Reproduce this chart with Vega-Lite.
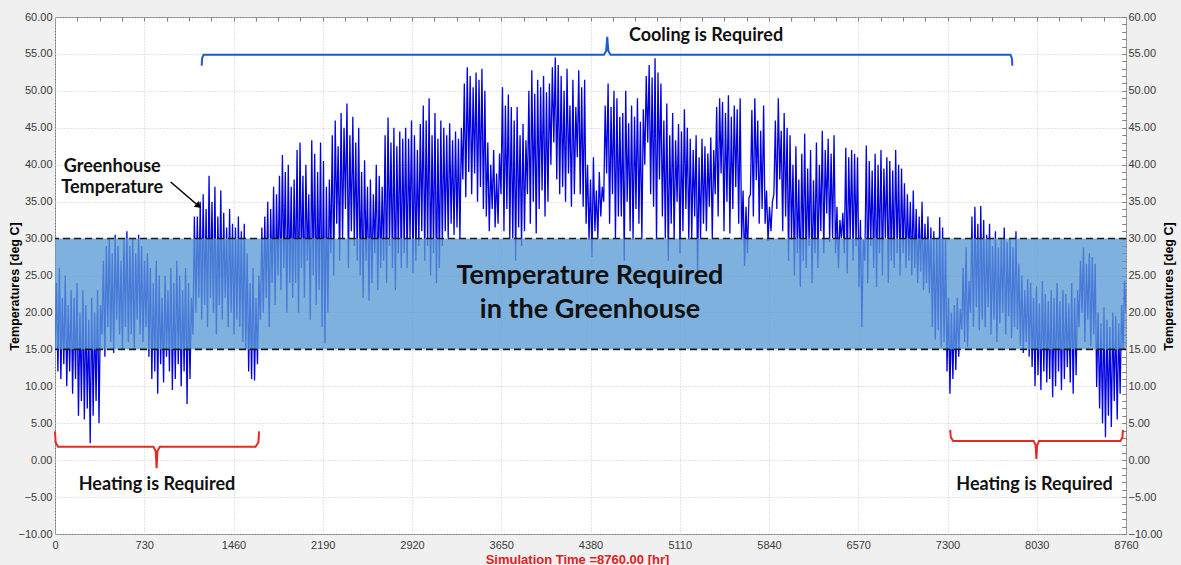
{
"$schema":"https://vega.github.io/schema/vega-lite/v6.json",
"width":1071,"height":517,
"autosize":"none",
"padding":{"left":55,"top":17,"right":55,"bottom":31},
"background":"#f0f0f0",
"config":{"view":{"fill":"white","stroke":"#7f7f7f"},"axis":{"labelFont":"Liberation Sans","titleFont":"Liberation Sans"}},
"datasets":{
"temp":[
{"t":0,"v":15},{"t":12,"v":24},{"t":24,"v":12},{"t":36,"v":26},{"t":48,"v":11},{"t":60,"v":22},{"t":72,"v":13},{"t":84,"v":25},{"t":96,"v":10},{"t":108,"v":21},
{"t":120,"v":12},{"t":132,"v":23},{"t":144,"v":9},{"t":156,"v":22},{"t":168,"v":11},{"t":180,"v":24},{"t":192,"v":6},{"t":204,"v":20},{"t":216,"v":8},{"t":228,"v":23},
{"t":240,"v":5.5},{"t":252,"v":21},{"t":264,"v":7},{"t":276,"v":19},{"t":288,"v":2.3},{"t":300,"v":22},{"t":312,"v":6},{"t":324,"v":20},{"t":336,"v":8},{"t":348,"v":23},
{"t":360,"v":5},{"t":372,"v":21},{"t":384,"v":17},{"t":396,"v":27},{"t":408,"v":14},{"t":420,"v":29},{"t":432,"v":18},{"t":444,"v":30},{"t":456,"v":16},{"t":468,"v":28},
{"t":480,"v":14.5},{"t":492,"v":30.5},{"t":504,"v":19},{"t":516,"v":29},{"t":528,"v":17},{"t":540,"v":27},{"t":552,"v":15},{"t":564,"v":30},{"t":576,"v":18},{"t":588,"v":31},
{"t":600,"v":16},{"t":612,"v":29},{"t":624,"v":17},{"t":636,"v":30},{"t":648,"v":15},{"t":660,"v":28},{"t":672,"v":19},{"t":684,"v":30.5},{"t":696,"v":17},{"t":708,"v":29},
{"t":720,"v":16},{"t":732,"v":27},{"t":744,"v":18},{"t":756,"v":28},{"t":768,"v":14},{"t":780,"v":26},{"t":792,"v":11},{"t":804,"v":24},{"t":816,"v":12},{"t":828,"v":27},
{"t":840,"v":9},{"t":852,"v":25},{"t":864,"v":13},{"t":876,"v":22},{"t":888,"v":10.5},{"t":900,"v":25},{"t":912,"v":14},{"t":924,"v":23},{"t":936,"v":12},{"t":948,"v":26},
{"t":960,"v":9.5},{"t":972,"v":24},{"t":984,"v":11},{"t":996,"v":27},{"t":1008,"v":13},{"t":1020,"v":25},{"t":1032,"v":10},{"t":1044,"v":23},{"t":1056,"v":12},{"t":1068,"v":26},
{"t":1080,"v":7.6},{"t":1092,"v":24},{"t":1104,"v":11},{"t":1116,"v":22},{"t":1128,"v":17},{"t":1140,"v":33},{"t":1152,"v":20},{"t":1164,"v":33},{"t":1176,"v":22},{"t":1188,"v":35},
{"t":1200,"v":19},{"t":1212,"v":36},{"t":1224,"v":21},{"t":1236,"v":34},{"t":1248,"v":18},{"t":1260,"v":38.5},{"t":1272,"v":22},{"t":1284,"v":35},{"t":1296,"v":20},{"t":1308,"v":37},
{"t":1320,"v":17},{"t":1332,"v":33},{"t":1344,"v":21},{"t":1356,"v":36.5},{"t":1368,"v":19},{"t":1380,"v":33.5},{"t":1392,"v":22},{"t":1404,"v":31.5},{"t":1416,"v":18},{"t":1428,"v":34},
{"t":1440,"v":20},{"t":1452,"v":32},{"t":1464,"v":17},{"t":1476,"v":31.5},{"t":1488,"v":19},{"t":1500,"v":33},{"t":1512,"v":18},{"t":1524,"v":31},{"t":1536,"v":16},{"t":1548,"v":32},
{"t":1560,"v":15},{"t":1572,"v":28},{"t":1584,"v":12},{"t":1596,"v":24},{"t":1608,"v":11},{"t":1620,"v":26},{"t":1632,"v":10.8},{"t":1644,"v":22},{"t":1656,"v":13},{"t":1668,"v":25},
{"t":1680,"v":19},{"t":1692,"v":31.5},{"t":1704,"v":20},{"t":1716,"v":33},{"t":1728,"v":22},{"t":1740,"v":35},{"t":1752,"v":18},{"t":1764,"v":34},{"t":1776,"v":24},{"t":1788,"v":37},
{"t":1800,"v":21},{"t":1812,"v":36},{"t":1824,"v":25},{"t":1836,"v":38.5},{"t":1848,"v":23},{"t":1860,"v":41.3},{"t":1872,"v":26},{"t":1884,"v":39},{"t":1896,"v":20},{"t":1908,"v":40},
{"t":1920,"v":24},{"t":1932,"v":37},{"t":1944,"v":22},{"t":1956,"v":38},{"t":1968,"v":24},{"t":1980,"v":42},{"t":1992,"v":20},{"t":2004,"v":43},{"t":2016,"v":26},{"t":2028,"v":38.5},
{"t":2040,"v":22},{"t":2052,"v":40},{"t":2064,"v":27},{"t":2076,"v":36},{"t":2088,"v":19},{"t":2100,"v":43.3},{"t":2112,"v":25},{"t":2124,"v":41.5},{"t":2136,"v":21},{"t":2148,"v":39},
{"t":2160,"v":23},{"t":2172,"v":43},{"t":2184,"v":18},{"t":2196,"v":40.5},{"t":2208,"v":15.8},{"t":2220,"v":37},{"t":2232,"v":20},{"t":2244,"v":38},{"t":2256,"v":28},{"t":2268,"v":44},
{"t":2280,"v":25},{"t":2292,"v":46},{"t":2304,"v":32},{"t":2316,"v":42.5},{"t":2328,"v":27},{"t":2340,"v":47},{"t":2352,"v":30},{"t":2364,"v":45},{"t":2376,"v":34},{"t":2388,"v":48.3},
{"t":2400,"v":26},{"t":2412,"v":44},{"t":2424,"v":31},{"t":2436,"v":46.5},{"t":2448,"v":29},{"t":2460,"v":43},{"t":2472,"v":27},{"t":2484,"v":45},{"t":2496,"v":25},{"t":2508,"v":39},
{"t":2520,"v":22},{"t":2532,"v":40.6},{"t":2544,"v":27},{"t":2556,"v":37},{"t":2568,"v":21.6},{"t":2580,"v":38},{"t":2592,"v":24},{"t":2604,"v":36},{"t":2616,"v":28},{"t":2628,"v":40},
{"t":2640,"v":23},{"t":2652,"v":38.5},{"t":2664,"v":26},{"t":2676,"v":37},{"t":2688,"v":27},{"t":2700,"v":44},{"t":2712,"v":24},{"t":2724,"v":46.4},{"t":2736,"v":29},{"t":2748,"v":43},
{"t":2760,"v":26},{"t":2772,"v":45},{"t":2784,"v":23},{"t":2796,"v":42.5},{"t":2808,"v":28},{"t":2820,"v":44.5},{"t":2832,"v":26},{"t":2844,"v":43.5},{"t":2856,"v":28},{"t":2868,"v":45},
{"t":2880,"v":26},{"t":2892,"v":43.5},{"t":2904,"v":30},{"t":2916,"v":46},{"t":2928,"v":25.3},{"t":2940,"v":44},{"t":2952,"v":27},{"t":2964,"v":42},{"t":2976,"v":29},{"t":2988,"v":45.5},
{"t":3000,"v":31},{"t":3012,"v":48},{"t":3024,"v":27},{"t":3036,"v":46},{"t":3048,"v":29},{"t":3060,"v":49},{"t":3072,"v":25},{"t":3084,"v":44},{"t":3096,"v":28},{"t":3108,"v":47},
{"t":3120,"v":24},{"t":3132,"v":43.5},{"t":3144,"v":26},{"t":3156,"v":46},{"t":3168,"v":29},{"t":3180,"v":45},{"t":3192,"v":31},{"t":3204,"v":44},{"t":3216,"v":30},{"t":3228,"v":45.6},
{"t":3240,"v":32},{"t":3252,"v":43.3},{"t":3264,"v":30.5},{"t":3276,"v":44.5},{"t":3288,"v":31.5},{"t":3300,"v":43.5},{"t":3312,"v":30},{"t":3324,"v":45},{"t":3336,"v":38},{"t":3348,"v":51},
{"t":3360,"v":35.6},{"t":3372,"v":53.2},{"t":3384,"v":39},{"t":3396,"v":52},{"t":3408,"v":36},{"t":3420,"v":50.5},{"t":3432,"v":38.8},{"t":3444,"v":52.5},{"t":3456,"v":35},{"t":3468,"v":51.5},
{"t":3480,"v":37},{"t":3492,"v":53},{"t":3504,"v":34},{"t":3516,"v":50},{"t":3528,"v":33},{"t":3540,"v":43},{"t":3552,"v":31},{"t":3564,"v":40},{"t":3576,"v":34},{"t":3588,"v":42},
{"t":3600,"v":31.5},{"t":3612,"v":38.8},{"t":3624,"v":32},{"t":3636,"v":41.5},{"t":3648,"v":36},{"t":3660,"v":50.5},{"t":3672,"v":31},{"t":3684,"v":48},{"t":3696,"v":34},{"t":3708,"v":49.5},
{"t":3720,"v":30},{"t":3732,"v":47.8},{"t":3744,"v":30},{"t":3756,"v":46},{"t":3768,"v":27},{"t":3780,"v":47.8},{"t":3792,"v":31.5},{"t":3804,"v":44},{"t":3816,"v":29},{"t":3828,"v":45.5},
{"t":3840,"v":31},{"t":3852,"v":43.3},{"t":3864,"v":36},{"t":3876,"v":50},{"t":3888,"v":32},{"t":3900,"v":52.8},{"t":3912,"v":35},{"t":3924,"v":49.6},{"t":3936,"v":30.7},{"t":3948,"v":51.5},
{"t":3960,"v":34},{"t":3972,"v":50.5},{"t":3984,"v":36.5},{"t":3996,"v":52},{"t":4008,"v":33},{"t":4020,"v":49.8},{"t":4032,"v":35},{"t":4044,"v":51},{"t":4056,"v":40},{"t":4068,"v":53.2},
{"t":4080,"v":43},{"t":4092,"v":54.5},{"t":4104,"v":38},{"t":4116,"v":53.5},{"t":4128,"v":36},{"t":4140,"v":52},{"t":4152,"v":37},{"t":4164,"v":50},{"t":4176,"v":35},{"t":4188,"v":53},
{"t":4200,"v":38.8},{"t":4212,"v":48},{"t":4224,"v":34.3},{"t":4236,"v":51.5},{"t":4248,"v":36},{"t":4260,"v":47.8},{"t":4272,"v":41},{"t":4284,"v":52.8},{"t":4296,"v":36},{"t":4308,"v":50.5},
{"t":4320,"v":34.3},{"t":4332,"v":51.5},{"t":4344,"v":32},{"t":4356,"v":40},{"t":4368,"v":29.8},{"t":4380,"v":38},{"t":4392,"v":27.5},{"t":4404,"v":41},{"t":4416,"v":31},{"t":4428,"v":36.5},
{"t":4440,"v":30},{"t":4452,"v":39},{"t":4464,"v":33},{"t":4476,"v":37},{"t":4488,"v":35},{"t":4500,"v":48},{"t":4512,"v":38.8},{"t":4524,"v":51},{"t":4536,"v":32},{"t":4548,"v":47.8},
{"t":4560,"v":36},{"t":4572,"v":50},{"t":4584,"v":30},{"t":4596,"v":49},{"t":4608,"v":33},{"t":4620,"v":46.5},{"t":4632,"v":33},{"t":4644,"v":47},{"t":4656,"v":27},{"t":4668,"v":50},
{"t":4680,"v":35},{"t":4692,"v":45.6},{"t":4704,"v":31},{"t":4716,"v":48},{"t":4728,"v":29.8},{"t":4740,"v":46.5},{"t":4752,"v":34},{"t":4764,"v":49},{"t":4776,"v":32},{"t":4788,"v":45.8},
{"t":4800,"v":30},{"t":4812,"v":47.5},{"t":4824,"v":40},{"t":4836,"v":52},{"t":4848,"v":43},{"t":4860,"v":53.5},{"t":4872,"v":36},{"t":4884,"v":51.8},{"t":4896,"v":34.3},{"t":4908,"v":54.4},
{"t":4920,"v":29.8},{"t":4932,"v":52.5},{"t":4944,"v":38},{"t":4956,"v":51},{"t":4968,"v":33},{"t":4980,"v":46},{"t":4992,"v":30},{"t":5004,"v":48.3},{"t":5016,"v":27},{"t":5028,"v":44},
{"t":5040,"v":32},{"t":5052,"v":47},{"t":5064,"v":29.8},{"t":5076,"v":43.3},{"t":5088,"v":35},{"t":5100,"v":45.5},{"t":5112,"v":28},{"t":5124,"v":44.5},{"t":5136,"v":31},{"t":5148,"v":47.5},
{"t":5160,"v":34},{"t":5172,"v":45},{"t":5184,"v":29.8},{"t":5196,"v":43.5},{"t":5208,"v":30},{"t":5220,"v":42},{"t":5232,"v":33},{"t":5244,"v":44},{"t":5256,"v":25.3},{"t":5268,"v":41},
{"t":5280,"v":29.8},{"t":5292,"v":43.5},{"t":5304,"v":32},{"t":5316,"v":42.5},{"t":5328,"v":31},{"t":5340,"v":41.5},{"t":5352,"v":34.3},{"t":5364,"v":43.7},{"t":5376,"v":30},{"t":5388,"v":42},
{"t":5400,"v":36},{"t":5412,"v":47.8},{"t":5424,"v":33},{"t":5436,"v":49},{"t":5448,"v":38.8},{"t":5460,"v":48.5},{"t":5472,"v":31},{"t":5484,"v":47},{"t":5496,"v":35},{"t":5508,"v":49.4},
{"t":5520,"v":30.7},{"t":5532,"v":46.5},{"t":5544,"v":34},{"t":5556,"v":48},{"t":5568,"v":37},{"t":5580,"v":47.5},{"t":5592,"v":32},{"t":5604,"v":49},{"t":5616,"v":29.8},{"t":5628,"v":36.5},
{"t":5640,"v":26.3},{"t":5652,"v":34.3},{"t":5664,"v":28},{"t":5676,"v":35.5},{"t":5688,"v":36},{"t":5700,"v":47.4},{"t":5712,"v":33},{"t":5724,"v":49},{"t":5736,"v":37.9},{"t":5748,"v":46},
{"t":5760,"v":32},{"t":5772,"v":44.6},{"t":5784,"v":34},{"t":5796,"v":48},{"t":5808,"v":32},{"t":5820,"v":36.5},{"t":5832,"v":29.7},{"t":5844,"v":34.3},{"t":5856,"v":31},{"t":5868,"v":35},
{"t":5880,"v":36},{"t":5892,"v":46},{"t":5904,"v":34},{"t":5916,"v":49},{"t":5928,"v":38},{"t":5940,"v":44.6},{"t":5952,"v":31},{"t":5964,"v":47},{"t":5976,"v":33},{"t":5988,"v":45},
{"t":6000,"v":27},{"t":6012,"v":44},{"t":6024,"v":29.8},{"t":6036,"v":40},{"t":6048,"v":25},{"t":6060,"v":42.5},{"t":6072,"v":28},{"t":6084,"v":38},{"t":6096,"v":23.4},{"t":6108,"v":41.5},
{"t":6120,"v":27},{"t":6132,"v":44.2},{"t":6144,"v":26},{"t":6156,"v":39.5},{"t":6168,"v":29},{"t":6180,"v":42},{"t":6192,"v":24},{"t":6204,"v":37.9},{"t":6216,"v":28},{"t":6228,"v":43},
{"t":6240,"v":26},{"t":6252,"v":40},{"t":6264,"v":31},{"t":6276,"v":44.6},{"t":6288,"v":28},{"t":6300,"v":42},{"t":6312,"v":33.4},{"t":6324,"v":43.5},{"t":6336,"v":29.5},{"t":6348,"v":41.5},
{"t":6360,"v":30},{"t":6372,"v":44},{"t":6384,"v":28},{"t":6396,"v":34.3},{"t":6408,"v":26},{"t":6420,"v":32.5},{"t":6432,"v":30},{"t":6444,"v":33.5},{"t":6456,"v":28},{"t":6468,"v":42.3},
{"t":6480,"v":25.3},{"t":6492,"v":41},{"t":6504,"v":30},{"t":6516,"v":42},{"t":6528,"v":27},{"t":6540,"v":41.5},{"t":6552,"v":29},{"t":6564,"v":41},{"t":6576,"v":23.4},{"t":6588,"v":32.5},
{"t":6600,"v":18},{"t":6612,"v":29.8},{"t":6624,"v":27},{"t":6636,"v":42.6},{"t":6648,"v":24},{"t":6660,"v":40.5},{"t":6672,"v":29},{"t":6684,"v":39.2},{"t":6696,"v":26},{"t":6708,"v":41.5},
{"t":6720,"v":23.4},{"t":6732,"v":40},{"t":6744,"v":28},{"t":6756,"v":42},{"t":6768,"v":25},{"t":6780,"v":39.5},{"t":6792,"v":30},{"t":6804,"v":41},{"t":6816,"v":24},{"t":6828,"v":40.5},
{"t":6840,"v":27},{"t":6852,"v":39.2},{"t":6864,"v":26},{"t":6876,"v":42},{"t":6888,"v":28},{"t":6900,"v":40},{"t":6912,"v":25},{"t":6924,"v":39.5},{"t":6936,"v":28},{"t":6948,"v":37.5},
{"t":6960,"v":26},{"t":6972,"v":36},{"t":6984,"v":27},{"t":6996,"v":35},{"t":7008,"v":25},{"t":7020,"v":36.5},{"t":7032,"v":26},{"t":7044,"v":34},{"t":7056,"v":24},{"t":7068,"v":33},
{"t":7080,"v":25.5},{"t":7092,"v":35},{"t":7104,"v":23},{"t":7116,"v":32},{"t":7128,"v":24},{"t":7140,"v":33},{"t":7152,"v":22.6},{"t":7164,"v":31.5},{"t":7176,"v":18},{"t":7188,"v":31},
{"t":7200,"v":16.3},{"t":7212,"v":30},{"t":7224,"v":17.6},{"t":7236,"v":32.9},{"t":7248,"v":15.3},{"t":7260,"v":31.5},{"t":7272,"v":16},{"t":7284,"v":29.8},{"t":7296,"v":12},{"t":7308,"v":22},
{"t":7320,"v":9},{"t":7332,"v":20},{"t":7344,"v":11},{"t":7356,"v":21},{"t":7368,"v":12.2},{"t":7380,"v":22},{"t":7392,"v":14},{"t":7404,"v":20.5},{"t":7416,"v":17.7},{"t":7428,"v":26},
{"t":7440,"v":16},{"t":7452,"v":28.8},{"t":7464,"v":15.3},{"t":7476,"v":24.3},{"t":7488,"v":20},{"t":7500,"v":33},{"t":7512,"v":18},{"t":7524,"v":34.3},{"t":7536,"v":20.7},{"t":7548,"v":32},
{"t":7560,"v":17.6},{"t":7572,"v":34.4},{"t":7584,"v":19},{"t":7596,"v":32.5},{"t":7608,"v":18},{"t":7620,"v":30.5},{"t":7632,"v":20.7},{"t":7644,"v":32},{"t":7656,"v":17},{"t":7668,"v":29},
{"t":7680,"v":19},{"t":7692,"v":31},{"t":7704,"v":16},{"t":7716,"v":28.8},{"t":7728,"v":18.5},{"t":7740,"v":30},{"t":7752,"v":20},{"t":7764,"v":31.5},{"t":7776,"v":17},{"t":7788,"v":29.5},
{"t":7800,"v":19.5},{"t":7812,"v":30},{"t":7824,"v":16.5},{"t":7836,"v":28.8},{"t":7848,"v":18},{"t":7860,"v":31},{"t":7872,"v":17.7},{"t":7884,"v":26.6},{"t":7896,"v":15.5},{"t":7908,"v":25},
{"t":7920,"v":14.5},{"t":7932,"v":23},{"t":7944,"v":16},{"t":7956,"v":24.5},{"t":7968,"v":14},{"t":7980,"v":24},{"t":7992,"v":12.6},{"t":8004,"v":22},{"t":8016,"v":10},{"t":8028,"v":23.5},
{"t":8040,"v":11.5},{"t":8052,"v":21.2},{"t":8064,"v":9.5},{"t":8076,"v":24.3},{"t":8088,"v":12},{"t":8100,"v":22.5},{"t":8112,"v":10.5},{"t":8124,"v":21.5},{"t":8136,"v":11},{"t":8148,"v":23},
{"t":8160,"v":8.5},{"t":8172,"v":22},{"t":8184,"v":10},{"t":8196,"v":24},{"t":8208,"v":12},{"t":8220,"v":21.5},{"t":8232,"v":9.5},{"t":8244,"v":23},{"t":8256,"v":11},{"t":8268,"v":22.5},
{"t":8280,"v":12.6},{"t":8292,"v":21.2},{"t":8304,"v":10.5},{"t":8316,"v":24},{"t":8328,"v":9},{"t":8340,"v":22},{"t":8352,"v":11.5},{"t":8364,"v":23},{"t":8376,"v":18},{"t":8388,"v":27},
{"t":8400,"v":20},{"t":8412,"v":28.8},{"t":8424,"v":16},{"t":8436,"v":26.6},{"t":8448,"v":19},{"t":8460,"v":28},{"t":8472,"v":15.4},{"t":8484,"v":27.5},{"t":8496,"v":17},{"t":8508,"v":26.6},
{"t":8520,"v":9.9},{"t":8532,"v":20},{"t":8544,"v":7},{"t":8556,"v":18.5},{"t":8568,"v":5},{"t":8580,"v":20.7},{"t":8592,"v":3.1},{"t":8604,"v":19},{"t":8616,"v":6},{"t":8628,"v":18},
{"t":8640,"v":4.5},{"t":8652,"v":20},{"t":8664,"v":8},{"t":8676,"v":19.5},{"t":8688,"v":5.5},{"t":8700,"v":18.5},{"t":8712,"v":9},{"t":8724,"v":21},{"t":8736,"v":15},{"t":8748,"v":24.3},
{"t":8760,"v":20}
],
"braces":[
{"b":"top","t":1200,"v":53.4},{"b":"top","t":1203,"v":54.4},{"b":"top","t":1215,"v":54.9},{"b":"top","t":4490,"v":54.9},{"b":"top","t":4508,"v":55.4},{"b":"top","t":4517,"v":57.3},{"b":"top","t":4526,"v":55.4},{"b":"top","t":4544,"v":54.9},{"b":"top","t":7815,"v":54.9},{"b":"top","t":7827,"v":54.4},{"b":"top","t":7830,"v":53.4},
{"b":"left","t":0,"v":3.9},{"b":"left","t":5,"v":2.4},{"b":"left","t":25,"v":1.8},{"b":"left","t":805,"v":1.8},{"b":"left","t":824,"v":1.2},{"b":"left","t":831,"v":-1.1},{"b":"left","t":838,"v":1.2},{"b":"left","t":857,"v":1.8},{"b":"left","t":1640,"v":1.8},{"b":"left","t":1664,"v":2.4},{"b":"left","t":1669,"v":3.9},
{"b":"right","t":7322,"v":4.1},{"b":"right","t":7327,"v":3.1},{"b":"right","t":7347,"v":2.6},{"b":"right","t":8005,"v":2.6},{"b":"right","t":8021,"v":2.0},{"b":"right","t":8027,"v":0.15},{"b":"right","t":8033,"v":2.0},{"b":"right","t":8049,"v":2.6},{"b":"right","t":8715,"v":2.6},{"b":"right","t":8731,"v":3.1},{"b":"right","t":8735,"v":4.1}
]
},
"resolve":{"axis":{"x":"independent","y":"independent"}},
"layer":[
{"data":{"name":"temp"},
 "mark":{"type":"line","color":"#0000e0","strokeWidth":1.3,"clip":true},
 "encoding":{
  "x":{"field":"t","type":"quantitative","scale":{"domain":[0,8760],"nice":false,"zero":false},
   "axis":{"values":[0,730,1460,2190,2920,3650,4380,5110,5840,6570,7300,8030,8760],"format":"d","grid":true,"gridColor":"#c8c8c8","gridDash":[1,2],"ticks":false,"domain":false,"labelFontSize":11,"labelColor":"#3a3a3a","labelPadding":5,"labelFlush":false,"labelOverlap":false,"labelBound":false,
   "title":"Simulation Time =8760.00 [hr]","titleColor":"#e0201b","titleFontSize":13,"titleFontWeight":"bold","titleX":522,"titleY":25,"titleAlign":"center","titleBaseline":"middle"}},
  "y":{"field":"v","type":"quantitative","scale":{"domain":[-10,60],"nice":false,"zero":false},
   "axis":{"values":[-10,-5,0,5,10,15,20,25,30,35,40,45,50,55,60],"format":".2f","grid":true,"gridColor":"#c8c8c8","gridDash":[1,2],"ticks":false,"domain":false,"labelFontSize":11,"labelColor":"#3a3a3a","labelPadding":3,"labelFlush":false,"labelOverlap":false,"labelBound":false,
   "title":"Temperatures  [deg C]","titleFontSize":12.5,"titleFontWeight":"bold","titleColor":"#000000","titleAngle":-90,"titleX":-41,"titleY":269,"titleAlign":"center","titleBaseline":"middle"}}
 }},
{"data":{"values":[{"x0":0,"x1":8760,"lo":15,"hi":30}]},
 "mark":{"type":"rect","fill":"#5b9bd5","opacity":0.78},
 "encoding":{
  "x":{"field":"x0","type":"quantitative","scale":{"domain":[0,8760],"nice":false,"zero":false},
   "axis":{"values":[182.5,365,547.5,730,912.5,1095,1277.5,1460,1642.5,1825,2007.5,2190,2372.5,2555,2737.5,2920,3102.5,3285,3467.5,3650,3832.5,4015,4197.5,4380,4562.5,4745,4927.5,5110,5292.5,5475,5657.5,5840,6022.5,6205,6387.5,6570,6752.5,6935,7117.5,7300,7482.5,7665,7847.5,8030,8212.5,8395,8577.5],"labels":false,"grid":false,"domain":false,"ticks":true,"tickSize":-4,"tickColor":"#7f7f7f","title":null}},
  "x2":{"field":"x1"},
  "y":{"field":"lo","type":"quantitative","scale":{"domain":[-10,60],"nice":false,"zero":false},
   "axis":{"tickCount":70,"labels":false,"grid":false,"domain":false,"ticks":true,"tickSize":-4,"tickColor":"#7f7f7f","title":null}},
  "y2":{"field":"hi"}
 }},
{"data":{"values":[{"v":15},{"v":30}]},
 "mark":{"type":"rule","color":"#1a1a1a","strokeWidth":1.6,"strokeDash":[7,4]},
 "encoding":{
  "y":{"field":"v","type":"quantitative","scale":{"domain":[-10,60],"nice":false,"zero":false},
   "axis":{"orient":"right","values":[-10,-5,0,5,10,15,20,25,30,35,40,45,50,55,60],"format":".2f","grid":false,"ticks":false,"domain":false,"labelFontSize":11,"labelColor":"#3a3a3a","labelPadding":2,"labelFlush":false,"labelOverlap":false,"labelBound":false,
   "title":"Temperatures  [deg C]","titleFontSize":12.5,"titleFontWeight":"bold","titleColor":"#000000","titleAngle":-90,"titleX":42,"titleY":269,"titleAlign":"center","titleBaseline":"middle"}}
 }},
{"data":{"name":"braces"},
 "mark":{"type":"line","strokeWidth":2,"clip":false},
 "encoding":{
  "x":{"field":"t","type":"quantitative","scale":{"domain":[0,8760],"nice":false,"zero":false},"axis":null},
  "y":{"field":"v","type":"quantitative","scale":{"domain":[-10,60],"nice":false,"zero":false},
   "axis":{"orient":"right","tickCount":70,"labels":false,"grid":false,"domain":false,"ticks":true,"tickSize":-4,"tickColor":"#7f7f7f","title":null}},
  "color":{"field":"b","type":"nominal","scale":{"domain":["top","left","right"],"range":["#1a5ad8","#e32b22","#e32b22"]},"legend":null}
 }},
{"data":{"values":[{"t":946,"v":37.66},{"t":1175,"v":34.41}]},
 "mark":{"type":"line","color":"#000000","strokeWidth":1.5},
 "encoding":{
  "x":{"field":"t","type":"quantitative","scale":{"domain":[0,8760],"nice":false,"zero":false},"axis":null},
  "y":{"field":"v","type":"quantitative","scale":{"domain":[-10,60],"nice":false,"zero":false},"axis":null}
 }},
{"data":{"values":[{"t":1175,"v":34.41}]},
 "mark":{"type":"point","shape":"triangle-up","filled":true,"color":"#000000","size":55,"angle":131,"opacity":1},
 "encoding":{
  "x":{"field":"t","type":"quantitative","scale":{"domain":[0,8760],"nice":false,"zero":false},"axis":null},
  "y":{"field":"v","type":"quantitative","scale":{"domain":[-10,60],"nice":false,"zero":false},"axis":null}
 }},
{"data":{"values":[{"t":4376,"v":24.9,"label":"Temperature Required"},{"t":4376,"v":20.3,"label":"in the Greenhouse"}]},
 "mark":{"type":"text","font":"Lato","fontWeight":"bold","fontSize":27,"color":"#111111","align":"center","baseline":"middle"},
 "encoding":{
  "x":{"field":"t","type":"quantitative","scale":{"domain":[0,8760],"nice":false,"zero":false},"axis":null},
  "y":{"field":"v","type":"quantitative","scale":{"domain":[-10,60],"nice":false,"zero":false},"axis":null},
  "text":{"field":"label"}
 }},
{"data":{"values":[{"t":5325,"v":57.4,"label":"Cooling is Required"},{"t":834,"v":-3.4,"label":"Heating is Required"},{"t":8012,"v":-3.4,"label":"Heating is Required"},{"t":468,"v":39.7,"label":"Greenhouse"},{"t":468,"v":36.8,"label":"Temperature"}]},
 "mark":{"type":"text","font":"Lato","fontWeight":"bold","fontSize":18,"color":"#111111","align":"center","baseline":"middle"},
 "encoding":{
  "x":{"field":"t","type":"quantitative","scale":{"domain":[0,8760],"nice":false,"zero":false},"axis":null},
  "y":{"field":"v","type":"quantitative","scale":{"domain":[-10,60],"nice":false,"zero":false},"axis":null},
  "text":{"field":"label"}
 }}
]
}
